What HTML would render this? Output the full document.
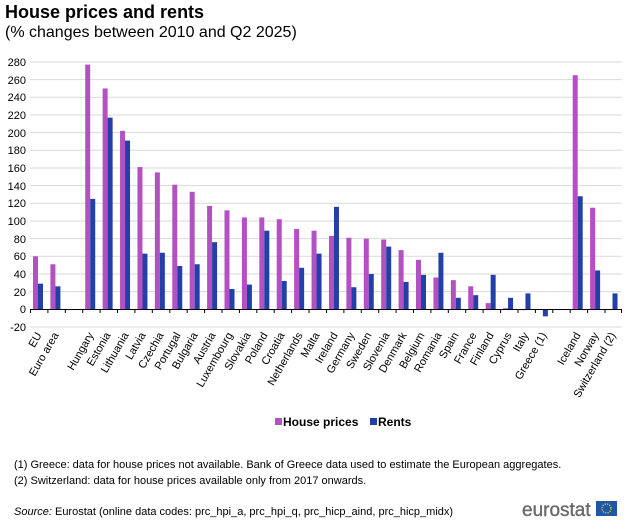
<!DOCTYPE html>
<html><head><meta charset="utf-8"><style>
body{margin:0;background:#fff;}
svg{display:block;font-family:"Liberation Sans",Arial,sans-serif;}
</style></head><body>
<svg width="624" height="520" viewBox="0 0 624 520">
<text x="5" y="18" font-size="18" font-weight="bold" fill="#000">House prices and rents</text>
<text x="5" y="37" font-size="16" fill="#000">(% changes between 2010 and Q2 2025)</text>
<g font-size="11" fill="#000" text-anchor="end">
<text x="26" y="66">280</text><text x="26" y="84">260</text><text x="26" y="101">240</text><text x="26" y="119">220</text><text x="26" y="137">200</text><text x="26" y="154">180</text><text x="26" y="172">160</text><text x="26" y="190">140</text><text x="26" y="207">120</text><text x="26" y="225">100</text><text x="26" y="243">80</text><text x="26" y="260">60</text><text x="26" y="278">40</text><text x="26" y="296">20</text><text x="26" y="313">0</text><text x="26" y="331">-20</text>
</g>
<g transform="translate(30,309.3) scale(17.41,-0.8833)">
<g stroke="#d9d9d9" stroke-width="1">
<line x1="0" x2="34" y1="-20" y2="-20" vector-effect="non-scaling-stroke"/>
<line x1="0" x2="34" y1="20" y2="20" vector-effect="non-scaling-stroke"/>
<line x1="0" x2="34" y1="40" y2="40" vector-effect="non-scaling-stroke"/>
<line x1="0" x2="34" y1="60" y2="60" vector-effect="non-scaling-stroke"/>
<line x1="0" x2="34" y1="80" y2="80" vector-effect="non-scaling-stroke"/>
<line x1="0" x2="34" y1="100" y2="100" vector-effect="non-scaling-stroke"/>
<line x1="0" x2="34" y1="120" y2="120" vector-effect="non-scaling-stroke"/>
<line x1="0" x2="34" y1="140" y2="140" vector-effect="non-scaling-stroke"/>
<line x1="0" x2="34" y1="160" y2="160" vector-effect="non-scaling-stroke"/>
<line x1="0" x2="34" y1="180" y2="180" vector-effect="non-scaling-stroke"/>
<line x1="0" x2="34" y1="200" y2="200" vector-effect="non-scaling-stroke"/>
<line x1="0" x2="34" y1="220" y2="220" vector-effect="non-scaling-stroke"/>
<line x1="0" x2="34" y1="240" y2="240" vector-effect="non-scaling-stroke"/>
<line x1="0" x2="34" y1="260" y2="260" vector-effect="non-scaling-stroke"/>
<line x1="0" x2="34" y1="280" y2="280" vector-effect="non-scaling-stroke"/>
</g>
<g fill="#b350c2">
<rect x="0.172" y="0" width="0.287" height="60"/>
<rect x="1.172" y="0" width="0.287" height="51"/>
<rect x="3.172" y="0" width="0.287" height="277"/>
<rect x="4.172" y="0" width="0.287" height="250"/>
<rect x="5.172" y="0" width="0.287" height="202"/>
<rect x="6.172" y="0" width="0.287" height="161"/>
<rect x="7.172" y="0" width="0.287" height="155"/>
<rect x="8.172" y="0" width="0.287" height="141"/>
<rect x="9.172" y="0" width="0.287" height="133"/>
<rect x="10.172" y="0" width="0.287" height="117"/>
<rect x="11.172" y="0" width="0.287" height="112"/>
<rect x="12.172" y="0" width="0.287" height="104"/>
<rect x="13.172" y="0" width="0.287" height="104"/>
<rect x="14.172" y="0" width="0.287" height="102"/>
<rect x="15.172" y="0" width="0.287" height="91"/>
<rect x="16.172" y="0" width="0.287" height="89"/>
<rect x="17.172" y="0" width="0.287" height="83"/>
<rect x="18.172" y="0" width="0.287" height="81"/>
<rect x="19.172" y="0" width="0.287" height="80"/>
<rect x="20.172" y="0" width="0.287" height="79"/>
<rect x="21.172" y="0" width="0.287" height="67"/>
<rect x="22.172" y="0" width="0.287" height="56"/>
<rect x="23.172" y="0" width="0.287" height="36"/>
<rect x="24.172" y="0" width="0.287" height="33"/>
<rect x="25.172" y="0" width="0.287" height="26"/>
<rect x="26.172" y="0" width="0.287" height="7"/>
<rect x="27.172" y="0" width="0.287" height="1.2"/>
<rect x="28.172" y="-1" width="0.287" height="1"/>
<rect x="31.172" y="0" width="0.287" height="265"/>
<rect x="32.172" y="0" width="0.287" height="115"/>
</g>
<g fill="#233fa8">
<rect x="0.459" y="0" width="0.287" height="29"/>
<rect x="1.459" y="0" width="0.287" height="26"/>
<rect x="3.459" y="0" width="0.287" height="125"/>
<rect x="4.459" y="0" width="0.287" height="217"/>
<rect x="5.459" y="0" width="0.287" height="191"/>
<rect x="6.459" y="0" width="0.287" height="63"/>
<rect x="7.459" y="0" width="0.287" height="64"/>
<rect x="8.459" y="0" width="0.287" height="49"/>
<rect x="9.459" y="0" width="0.287" height="51"/>
<rect x="10.459" y="0" width="0.287" height="76"/>
<rect x="11.459" y="0" width="0.287" height="23"/>
<rect x="12.459" y="0" width="0.287" height="28"/>
<rect x="13.459" y="0" width="0.287" height="89"/>
<rect x="14.459" y="0" width="0.287" height="32"/>
<rect x="15.459" y="0" width="0.287" height="47"/>
<rect x="16.459" y="0" width="0.287" height="63"/>
<rect x="17.459" y="0" width="0.287" height="116"/>
<rect x="18.459" y="0" width="0.287" height="25"/>
<rect x="19.459" y="0" width="0.287" height="40"/>
<rect x="20.459" y="0" width="0.287" height="71"/>
<rect x="21.459" y="0" width="0.287" height="31"/>
<rect x="22.459" y="0" width="0.287" height="39"/>
<rect x="23.459" y="0" width="0.287" height="64"/>
<rect x="24.459" y="0" width="0.287" height="13"/>
<rect x="25.459" y="0" width="0.287" height="16"/>
<rect x="26.459" y="0" width="0.287" height="39"/>
<rect x="27.459" y="0" width="0.287" height="13"/>
<rect x="28.459" y="0" width="0.287" height="18"/>
<rect x="29.459" y="-8" width="0.287" height="8"/>
<rect x="31.459" y="0" width="0.287" height="128"/>
<rect x="32.459" y="0" width="0.287" height="44"/>
<rect x="33.459" y="0" width="0.287" height="18"/>
</g>
</g>
<line x1="30" x2="622" y1="309.5" y2="309.5" stroke="#000" stroke-width="1"/>
<path stroke="#000" stroke-width="1" d="M30.5 309v4M47.9 309v4M65.3 309v4M82.7 309v4M100.1 309v4M117.5 309v4M134.9 309v4M152.3 309v4M169.8 309v4M187.2 309v4M204.6 309v4M222 309v4M239.4 309v4M256.8 309v4M274.2 309v4M291.6 309v4M309 309v4M326.5 309v4M343.9 309v4M361.3 309v4M378.7 309v4M396.1 309v4M413.5 309v4M430.9 309v4M448.3 309v4M465.7 309v4M483.1 309v4M500.6 309v4M518 309v4M535.4 309v4M552.8 309v4M570.2 309v4M587.6 309v4M605 309v4M621.5 309v4"/>
<g font-size="11" fill="#000" text-anchor="end">
<text transform="translate(42,335) rotate(-60)">EU</text>
<text transform="translate(59,335) rotate(-60)">Euro area</text>
<text transform="translate(94,335) rotate(-60)">Hungary</text>
<text transform="translate(111,335) rotate(-60)">Estonia</text>
<text transform="translate(129,335) rotate(-60)">Lithuania</text>
<text transform="translate(146,335) rotate(-60)">Latvia</text>
<text transform="translate(164,335) rotate(-60)">Czechia</text>
<text transform="translate(181,335) rotate(-60)">Portugal</text>
<text transform="translate(198,335) rotate(-60)">Bulgaria</text>
<text transform="translate(216,335) rotate(-60)">Austria</text>
<text transform="translate(233,335) rotate(-60)">Luxembourg</text>
<text transform="translate(251,335) rotate(-60)">Slovakia</text>
<text transform="translate(268,335) rotate(-60)">Poland</text>
<text transform="translate(285,335) rotate(-60)">Croatia</text>
<text transform="translate(303,335) rotate(-60)">Netherlands</text>
<text transform="translate(320,335) rotate(-60)">Malta</text>
<text transform="translate(338,335) rotate(-60)">Ireland</text>
<text transform="translate(355,335) rotate(-60)">Germany</text>
<text transform="translate(372,335) rotate(-60)">Sweden</text>
<text transform="translate(390,335) rotate(-60)">Slovenia</text>
<text transform="translate(407,335) rotate(-60)">Denmark</text>
<text transform="translate(425,335) rotate(-60)">Belgium</text>
<text transform="translate(442,335) rotate(-60)">Romania</text>
<text transform="translate(459,335) rotate(-60)">Spain</text>
<text transform="translate(477,335) rotate(-60)">France</text>
<text transform="translate(494,335) rotate(-60)">Finland</text>
<text transform="translate(512,335) rotate(-60)">Cyprus</text>
<text transform="translate(529,335) rotate(-60)">Italy</text>
<text transform="translate(547,335) rotate(-60)">Greece (1)</text>
<text transform="translate(581,335) rotate(-60)">Iceland</text>
<text transform="translate(599,335) rotate(-60)">Norway</text>
<text transform="translate(616,335) rotate(-60)">Switzerland (2)</text>
</g>
<rect x="275" y="418" width="7" height="7" fill="#b350c2"/>
<text x="283" y="426" font-size="12" font-weight="bold">House prices</text>
<rect x="370" y="418" width="7" height="7" fill="#233fa8"/>
<text x="378" y="426" font-size="12" font-weight="bold">Rents</text>
<text x="14" y="468" font-size="11">(1) Greece: data for house prices not available. Bank of Greece data used to estimate the European aggregates.</text>
<text x="14" y="484" font-size="11">(2) Switzerland: data for house prices available only from 2017 onwards.</text>
<text x="14" y="515" font-size="11"><tspan font-style="italic">Source:</tspan> Eurostat (online data codes: prc_hpi_a, prc_hpi_q, prc_hicp_aind, prc_hicp_midx)</text>
<text x="522" y="516" font-size="19" fill="#6b6b6b" stroke="#6b6b6b" stroke-width="0.4">eurostat</text>
<rect x="596" y="501" width="21" height="15" fill="#1f57a8"/>
<circle cx="606.5" cy="508.5" r="4.5" fill="none" stroke="#f5d000" stroke-width="1.3" stroke-dasharray="1.2 1.2"/>
</svg>
</body></html>
